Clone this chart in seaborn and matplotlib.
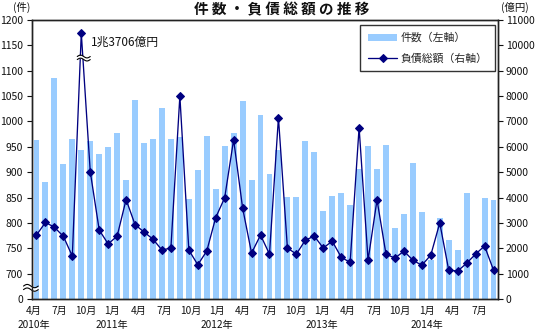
import numpy as np
import pandas as pd
import matplotlib
matplotlib.use("Agg")
import matplotlib.pyplot as plt
import seaborn as sns

# ---- data -------------------------------------------------------------
periods = pd.period_range("2010-04", "2014-07", freq="M")
months = [p.month for p in periods]
years = [p.year for p in periods]

counts = [963, 880, 1086, 917, 965, 943, 961, 935, 949, 977, 884, 1042,
          957, 965, 1026, 965, 969, 848, 905, 971, 866, 951, 977, 1040,
          884, 1012, 896, 943, 852, 852, 961, 939, 824, 854, 858, 836,
          906, 951, 906, 953, 790, 817, 918, 821, 727, 810, 766, 747,
          859, 740, 849, 845]

debt = [2520, 3020, 2830, 2470, 1690, 13706, 5020, 2720, 2170, 2480, 3920, 2930,
        2640, 2360, 1930, 2010, 8000, 1930, 1350, 1890, 3210, 3990, 6280, 3590,
        1810, 2520, 1770, 7150, 2010, 1770, 2320, 2480, 2010, 2280, 1650, 1440,
        6760, 1530, 3910, 1770, 1610, 1890, 1530, 1330, 1730, 3000, 1140, 1100,
        1410, 1770, 2090, 1140]

left_ticks = [650, 700, 750, 800, 850, 900, 950, 1000, 1050, 1100, 1150, 1200]
left_tick_labels = ["0", "700", "750", "800", "850", "900", "950", "1000",
                    "1050", "1100", "1150", "1200"]
right_ticks = list(range(0, 11001, 1000))

title = "件 数 ・ 負 債 総 額 の 推 移"
bar_label = "件数（左軸）"
line_label = "負債総額（右軸）"
peak_label = "1兆3706億円"

# ---- style ------------------------------------------------------------
sns.set_theme(style="white")
plt.rcParams["font.family"] = ["Noto Sans CJK JP", "DejaVu Sans"]
BAR_C = "#99CCFF"
LINE_C = "#000080"
FRAME_C = "#222222"

fig = plt.figure(figsize=(5.35, 3.32), dpi=100)
ax = fig.add_axes([32 / 535, 33 / 332, 466 / 535, 279 / 332])
ax2 = ax.twinx()

df = pd.DataFrame({"idx": np.arange(len(counts)), "count": counts, "debt": debt})
# axis break for the September 2010 peak
CAP = 10480
df["debt_plot"] = df["debt"].clip(upper=CAP)

sns.barplot(data=df, x="idx", y="count", ax=ax, color=BAR_C, saturation=1,
            width=0.66, label=bar_label, linewidth=0)
sns.lineplot(data=df, x="idx", y="debt_plot", ax=ax2, color=LINE_C, lw=0.95,
             marker="D", markersize=4.0, markeredgecolor=LINE_C,
             label=line_label)

ax.set_xlim(-0.5, len(counts) - 0.5)
ax.set_ylim(650, 1200)
ax2.set_ylim(0, 11000)

ax.set_yticks(left_ticks)
ax.set_yticklabels(left_tick_labels)
ax2.set_yticks(right_ticks)
ax2.set_yticklabels([str(v) for v in right_ticks])

# x labels every 3 months, years under January (and the first month)
pos, labs = [], []
for i, (m, y) in enumerate(zip(months, years)):
    if i % 3 == 0:
        pos.append(i * 0.975 - 0.35)
        lab = f"{m}月"
        if i == 0 or m == 1:
            lab += f"\n{y}年"
        labs.append(lab)
ax.set_xticks(pos)
ax.set_xticklabels(labs, fontsize=7.3, linespacing=1.55)
ax.set_xlabel("")
ax.set_ylabel("")
ax2.set_ylabel("")

ax.tick_params(axis="x", length=0, pad=5, colors="#111111")
ax.tick_params(axis="y", direction="out", length=3.5, width=0.8, pad=3,
               labelsize=7.5, colors="#111111", left=True)
ax2.tick_params(axis="y", direction="out", length=3.5, width=0.8, pad=2,
                labelsize=7.5, colors="#111111", right=True)
for a in (ax, ax2):
    for s in a.spines.values():
        s.set_visible(True)
        s.set_color(FRAME_C)
        s.set_linewidth(1.0)

# peak annotation
ax2.text(5 + 1.05, CAP - 350, peak_label, fontsize=8.5, va="center",
         ha="left", color="#111111")


def wavy_break(axis, x0, x1, yc, half_gap, amp, clip=True):
    xs = np.linspace(x0, x1, 60)
    wave = amp * np.sin((xs - x0) / (x1 - x0) * 2 * np.pi)
    lo = yc - half_gap + wave
    hi = yc + half_gap + wave
    axis.fill_between(xs, lo, hi, color="white", zorder=6, clip_on=clip, lw=0)
    axis.plot(xs, lo, color="black", lw=0.8, zorder=7, clip_on=clip)
    axis.plot(xs, hi, color="black", lw=0.8, zorder=7, clip_on=clip)


# break on the peak line and on the left axis
wavy_break(ax2, 4.55, 6.0, 9500, 60, 55)
wavy_break(ax, -1.45, 0.2, 672, 3.5, 3.2, clip=False)

# legend
h1, l1 = ax.get_legend_handles_labels()
h2, l2 = ax2.get_legend_handles_labels()
if ax.get_legend():
    ax.get_legend().remove()
leg = ax2.legend(h1 + h2, l1 + l2, loc="upper right",
                 bbox_to_anchor=(0.9936, 0.982), borderaxespad=0,
                 fontsize=7.8, frameon=True, fancybox=False, handlelength=2.7,
                 handleheight=0.7, borderpad=0.7, labelspacing=0.9,
                 handletextpad=0.3)
leg.get_frame().set_edgecolor("black")
leg.get_frame().set_linewidth(1.0)
leg.get_frame().set_facecolor("white")

# titles / units
fig.text(282 / 535, 1 - 9 / 332, title, ha="center", va="center",
         fontsize=10.5, fontweight="bold", color="#111111")
fig.text(22 / 535, 1 - 7 / 332, "(件)", ha="center", va="center",
         fontsize=7.5, color="#111111")
fig.text(515 / 535, 1 - 7 / 332, "(億円)", ha="center", va="center",
         fontsize=7.5, color="#111111")

fig.savefig("out.png", dpi=100)
